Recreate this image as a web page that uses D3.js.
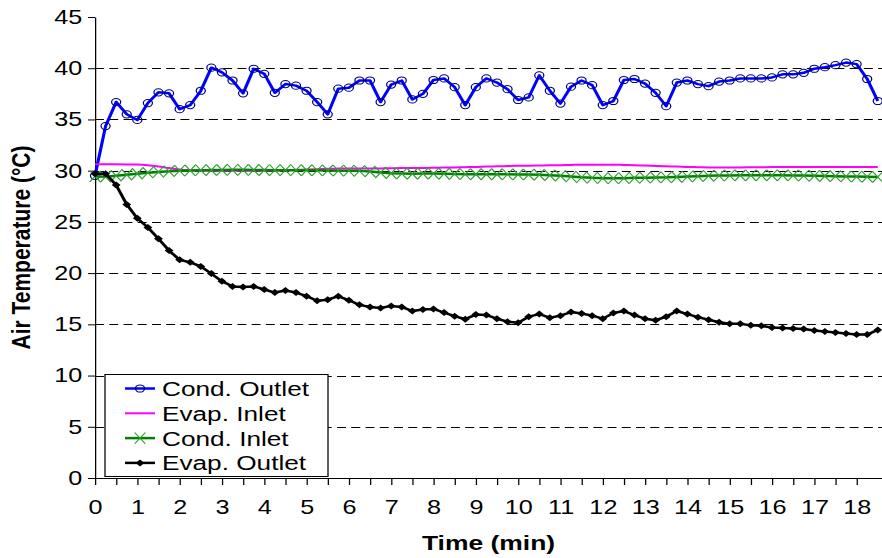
<!DOCTYPE html>
<html>
<head>
<meta charset="utf-8">
<script src="https://cdn.jsdelivr.net/npm/d3@7"></script>
<style>
  html, body { margin: 0; padding: 0; background: #fff; overflow: hidden; }
  svg { display: block; }
  text { font-family: "Liberation Sans", Arial, Helvetica, sans-serif; fill: #000; }
</style>
</head>
<body>
<svg id="chart"></svg>
<script>
// Reading times (min)
const times = [
  0, 0.25, 0.5, 0.75, 1, 1.25, 1.5, 1.75, 2, 2.25, 2.5, 2.75, 3, 3.25, 3.5, 3.75,
  4, 4.25, 4.5, 4.75, 5, 5.25, 5.5, 5.75, 6, 6.25, 6.5, 6.75, 7, 7.25, 7.5, 7.75,
  8, 8.25, 8.5, 8.75, 9, 9.25, 9.5, 9.75, 10, 10.25, 10.5, 10.75, 11, 11.25, 11.5, 11.75,
  12, 12.25, 12.5, 12.75, 13, 13.25, 13.5, 13.75, 14, 14.25, 14.5, 14.75, 15, 15.25, 15.5, 15.75,
  16, 16.25, 16.5, 16.75, 17, 17.25, 17.5, 17.75, 18, 18.25, 18.5
];

// Air temperatures (°C)
const condOutlet = [
  29.5, 34.35, 36.7, 35.5, 34.95, 36.6, 37.65, 37.55, 36.0, 36.4,
  37.8, 40.05, 39.6, 38.8, 37.55, 39.95, 39.45, 37.6, 38.45, 38.3,
  37.8, 36.7, 35.5, 38.0, 38.1, 38.8, 38.8, 36.7, 38.4, 38.8,
  36.95, 37.5, 38.85, 39.0, 38.15, 36.4, 38.15, 39.0, 38.6, 37.95,
  36.9, 37.15, 39.3, 37.8, 36.55, 38.2, 38.8, 38.35, 36.4, 36.8,
  38.85, 38.95, 38.5, 37.6, 36.3, 38.6, 38.8, 38.45, 38.25, 38.7,
  38.8, 39.0, 39.0, 39.0, 39.1, 39.4, 39.4, 39.55, 39.95, 40.1,
  40.3, 40.55, 40.4, 38.95, 36.8
];

const evapInlet = [
  30.62, 30.62, 30.62, 30.61, 30.59, 30.52, 30.4, 30.25, 30.12, 30.04,
  30.0, 30.0, 29.98, 29.98, 29.98, 30.0, 30.0, 30.02, 30.04, 30.08,
  30.12, 30.15, 30.18, 30.2, 30.22, 30.22, 30.22, 30.22, 30.24, 30.25,
  30.26, 30.27, 30.28, 30.3, 30.32, 30.34, 30.36, 30.4, 30.42, 30.45,
  30.47, 30.49, 30.5, 30.52, 30.54, 30.56, 30.58, 30.58, 30.58, 30.58,
  30.56, 30.54, 30.5, 30.46, 30.42, 30.4, 30.36, 30.34, 30.32, 30.32,
  30.32, 30.32, 30.33, 30.34, 30.35, 30.35, 30.35, 30.35, 30.35, 30.35,
  30.35, 30.35, 30.35, 30.35, 30.35
];

const condInlet = [
  29.45, 29.4, 29.5, 29.6, 29.7, 29.8, 29.88, 29.95, 30.0, 30.02,
  30.05, 30.06, 30.07, 30.08, 30.08, 30.07, 30.06, 30.05, 30.05, 30.05,
  30.04, 30.03, 30.02, 30.0, 30.0, 29.98, 29.92, 29.82, 29.75, 29.72,
  29.7, 29.72, 29.72, 29.7, 29.68, 29.66, 29.65, 29.65, 29.65, 29.64,
  29.63, 29.62, 29.6, 29.55, 29.5, 29.42, 29.35, 29.3, 29.27, 29.25,
  29.27, 29.3, 29.32, 29.34, 29.35, 29.38, 29.42, 29.46, 29.5, 29.52,
  29.54, 29.55, 29.55, 29.55, 29.55, 29.55, 29.54, 29.52, 29.5, 29.48,
  29.46, 29.44, 29.42, 29.4, 29.38
];

const evapOutlet = [
  29.7, 29.7, 28.6, 26.7, 25.35, 24.45, 23.35, 22.2, 21.3, 21.05,
  20.65, 19.95, 19.2, 18.7, 18.65, 18.7, 18.4, 18.1, 18.3, 18.1,
  17.75, 17.3, 17.4, 17.75, 17.35, 16.9, 16.7, 16.6, 16.8, 16.7,
  16.3, 16.45, 16.5, 16.15, 15.8, 15.5, 15.95, 15.9, 15.55, 15.25,
  15.15, 15.75, 16.0, 15.65, 15.85, 16.2, 16.05, 15.85, 15.55, 16.1,
  16.3, 15.9, 15.55, 15.4, 15.75, 16.3, 16.0, 15.7, 15.45, 15.2,
  15.05, 15.05, 14.9, 14.85, 14.7, 14.65, 14.6, 14.55, 14.4, 14.3,
  14.2, 14.1, 14.0, 14.0, 14.45
];

const seriesNames = ["Cond. Outlet", "Evap. Inlet", "Cond. Inlet", "Evap. Outlet"];
const xTickLabels = [0, 1, 2, 3, 4, 5, 6, 7, 8, 9, 10, 11, 12, 13, 14, 15, 16, 17, 18];
const yTickLabels = [0, 5, 10, 15, 20, 25, 30, 35, 40, 45];
const yGridValues = [5, 10, 15, 20, 25, 30, 35, 40];
const xAxisTitle = "Time (min)";
const yAxisTitle = "Air Temperature (°C)";

// The drawing is laid out on a narrower canvas and stretched to the window width.
const W = 882, H = 558, SX = 1.26;
const VW = W / SX;

const svg = d3.select("#chart")
  .attr("width", W).attr("height", H)
  .attr("viewBox", `0 0 ${VW} ${H}`)
  .attr("preserveAspectRatio", "none");

const x = d3.scaleLinear().domain([0, 18.6]).range([95 / SX, VW]);
const y = d3.scaleLinear().domain([0, 45]).range([478, 17]);

// Dashed horizontal gridlines
svg.append("g").selectAll("line").data(yGridValues).join("line")
  .attr("x1", x(0)).attr("x2", x(18.6))
  .attr("y1", d => Math.round(y(d)) + 0.5).attr("y2", d => Math.round(y(d)) + 0.5)
  .attr("stroke", "#000").attr("stroke-width", 1)
  .attr("stroke-dasharray", "7.1,4.2");

// Axes
const yAxis = svg.append("g")
  .attr("transform", `translate(${x(0)},0)`)
  .call(d3.axisLeft(y).tickValues(yTickLabels).tickSize(5.6).tickSizeOuter(0).tickPadding(4.5));
const xTickPositions = d3.range(0, 37).map(i => i / 2);
const xAxis = svg.append("g")
  .attr("transform", `translate(0,${y(0)})`)
  .call(d3.axisBottom(x).tickValues(xTickPositions).tickSize(7).tickSizeOuter(0).tickPadding(15)
    .tickFormat(d => xTickLabels.includes(d) ? String(d) : ""));
[yAxis, xAxis].forEach(g => {
  g.select(".domain").attr("stroke", "#000").attr("stroke-width", 1);
  g.selectAll(".tick line").attr("stroke", "#000").attr("stroke-width", 1);
  g.selectAll(".tick text").attr("font-size", 20)
    .attr("font-family", "'Liberation Sans', Arial, sans-serif").attr("fill", "#000");
});

// Axis titles
svg.append("text")
  .attr("transform", `translate(${(95 + W) / 2 / SX},550)`)
  .attr("text-anchor", "middle").attr("font-size", 21).attr("font-weight", "bold")
  .text(xAxisTitle);
svg.append("text")
  .attr("transform", `translate(${20 / SX},${(17 + 478) / 2}) rotate(-90)`)
  .attr("text-anchor", "middle").attr("dy", "0.36em")
  .attr("font-size", 21).attr("font-weight", "bold")
  .text(yAxisTitle);

// Marker shapes
const diamondPath = r => `M0,${-r}L${r},0L0,${r}L${-r},0Z`;
const crossPath = (rx, ry) => `M${-rx},${-ry}L${rx},${ry}M${-rx},${ry}L${rx},${-ry}`;

const series = [
  { name: seriesNames[0], values: condOutlet, color: "#0000ff", width: 2.5, curve: d3.curveLinear,
    marker: g => g.append("circle").attr("r", 3.6).attr("fill", "none").attr("stroke", "#000080").attr("stroke-width", 1) },
  { name: seriesNames[1], values: evapInlet, color: "#ff00ff", width: 2, curve: d3.curveMonotoneX, marker: null },
  { name: seriesNames[2], values: condInlet, color: "#008000", width: 2.5, curve: d3.curveLinear,
    marker: g => g.append("path").attr("d", crossPath(4.2, 5.6)).attr("fill", "none").attr("stroke", "#2f9f2f").attr("stroke-width", 1) },
  { name: seriesNames[3], values: evapOutlet, color: "#000000", width: 2.5, curve: d3.curveLinear,
    marker: g => g.append("path").attr("d", diamondPath(3.5)).attr("fill", "#000").attr("stroke", "none") }
];

const plot = svg.append("g");
series.forEach(s => {
  const line = d3.line().x((d, i) => x(times[i])).y(d => y(d)).curve(s.curve);
  plot.append("path").datum(s.values)
    .attr("d", line).attr("fill", "none")
    .attr("stroke", s.color).attr("stroke-width", s.width)
    .attr("stroke-linejoin", "round");
  if (s.marker) {
    plot.append("g").selectAll("g").data(s.values).join("g")
      .attr("transform", (d, i) => `translate(${x(times[i])},${y(d)})`)
      .each(function () { s.marker(d3.select(this)); });
  }
});

// Legend
const lg = svg.append("g");
lg.append("rect")
  .attr("x", 105 / SX).attr("y", 374.5).attr("width", (328 - 105) / SX).attr("height", 102)
  .attr("fill", "#fff").attr("stroke", "#000").attr("stroke-width", 1);
series.forEach((s, i) => {
  const cy = 388.5 + i * 24.8;
  const row = lg.append("g");
  row.append("line").attr("x1", 125 / SX).attr("x2", 155 / SX).attr("y1", cy).attr("y2", cy)
    .attr("stroke", s.color).attr("stroke-width", s.width);
  if (s.marker) {
    const m = row.append("g").attr("transform", `translate(${140 / SX},${cy})`);
    s.marker(m);
  }
  row.append("text").attr("x", 162 / SX).attr("y", cy).attr("dy", "0.36em")
    .attr("font-size", 20.8).text(s.name);
});
</script>
</body>
</html>
